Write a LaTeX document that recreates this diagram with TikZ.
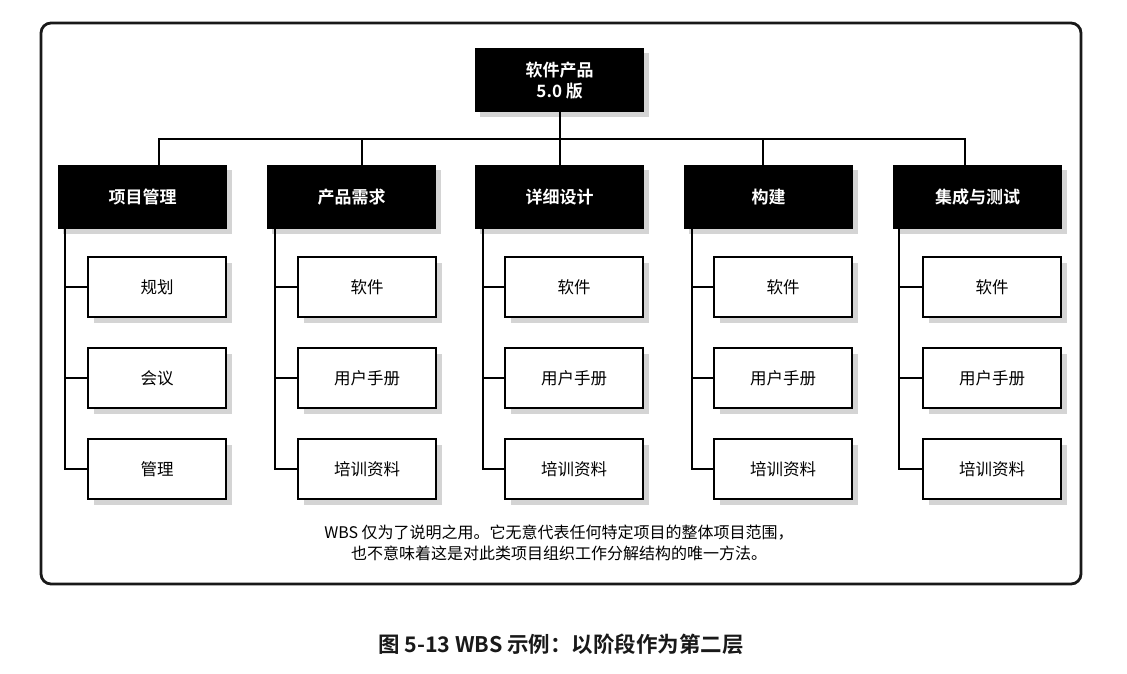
\documentclass[tikz,border=0pt]{standalone}
\usepackage{fontspec}
\setmainfont{Noto Sans CJK SC}
\newfontfamily\cjkbold{Noto Sans CJK SC Bold}
\usetikzlibrary{shadows}
\definecolor{shadowgray}{HTML}{D4D4D4}
\tikzset{
  topbox/.style={fill=black, text=white, minimum width=169pt, minimum height=64pt, anchor=north west, inner sep=0pt, align=center, font=\cjkbold\fontsize{17}{21}\selectfont,
    drop shadow={shadow xshift=5pt, shadow yshift=-5pt, fill=shadowgray, opacity=1}},
  childbox/.style={draw=black, line width=2pt, fill=white, minimum width=138pt, minimum height=60pt, anchor=north west, inner sep=0pt,
    drop shadow={shadow xshift=6pt, shadow yshift=-6pt, fill=shadowgray, opacity=1}},
  childtext/.style={font=\fontsize{16.5}{20}\selectfont},
  conn/.style={line width=2pt, line cap=rect},
}
\begin{document}
\begin{tikzpicture}[x=1pt,y=-1pt]
\useasboundingbox (0,0) rectangle (1127,674);
\fill[white] (0,0) rectangle (1127,674);
\draw[line width=2.8pt, draw=black!90, rounded corners=10pt] (41,23) rectangle (1081,584);

\node[topbox] (top) at (475,48) {软件产品\\5.0 版};

\node[topbox] (p1) at (58,165) {项目管理};
\node[topbox] (p2) at (267,165) {产品需求};
\node[topbox] (p3) at (475,165) {详细设计};
\node[topbox] (p4) at (684,165) {构建};
\node[topbox] (p5) at (893,165) {集成与测试};

\coordinate (barL) at (159,139);
\coordinate (barR) at (965,139);
\coordinate (barM) at (560,139);
\draw[conn] (top.south -| barM) -- (barM);
\draw[conn] (barL) -- (barR);
\foreach \i/\x in {1/159,2/362,3/560,4/763,5/965}{
  \coordinate (b\i) at (\x,139);
  \draw[conn] (b\i) -- (b\i |- p\i.north);
}

% children
\foreach \i/\x/\sx in {1/87/65,2/297/275,3/504/483,4/713/692,5/922/899}{
  \node[childbox] (c\i a) at (\x,256) {};
  \node[childbox] (c\i b) at (\x,347) {};
  \node[childbox] (c\i c) at (\x,438) {};
  \coordinate (s\i) at (\sx,229);
  \draw[conn] (s\i) -- (s\i |- c\i c.west) -- (c\i c.west);
  \draw[conn] (s\i |- c\i a.west) -- (c\i a.west);
  \draw[conn] (s\i |- c\i b.west) -- (c\i b.west);
}
\node[childtext] at (c1a) {规划};
\node[childtext] at (c1b) {会议};
\node[childtext] at (c1c) {管理};
\foreach \i in {2,3,4,5}{
  \node[childtext] at (c\i a) {软件};
  \node[childtext] at (c\i b) {用户手册};
  \node[childtext] at (c\i c) {培训资料};
}

\node[align=center, font=\fontsize{16}{20.5}\selectfont] (note) at (559,543) {WBS 仅为了说明之用。它无意代表任何特定项目的整体项目范围，\\也不意味着这是对此类项目组织工作分解结构的唯一方法。};

\node[font=\cjkbold\fontsize{21.5}{25}\selectfont, text=black!90] (cap) at (561,644) {图 5-13 WBS 示例：以阶段作为第二层};
\end{tikzpicture}
\end{document}
